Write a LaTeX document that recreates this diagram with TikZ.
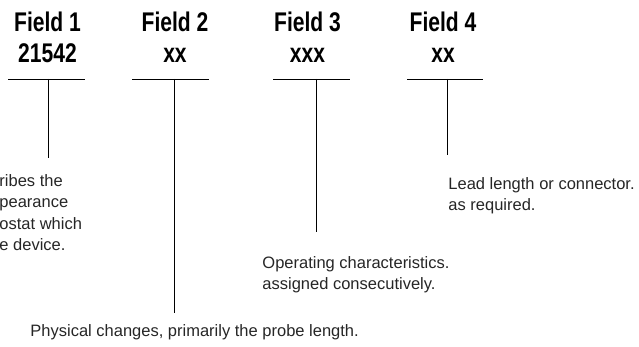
\documentclass[tikz,border=0pt]{standalone}
\usepackage{fontspec}
\setmainfont{Liberation Sans}
\newfontfamily\fieldfont[FakeStretch=0.78]{Liberation Sans Bold}
\usetikzlibrary{positioning}

\begin{document}
\begin{tikzpicture}[x=1pt, y=1pt, line width=0.9pt]
    \tikzset{field/.style={inner sep=0pt, anchor=base, align=center,
               font=\fieldfont\fontsize{27}{31}\selectfont},
             note/.style={inner sep=0pt, anchor=base west, align=left, text=black!85,
               font=\fontsize{16.5}{21.5}\selectfont}}
    \useasboundingbox (0,0) rectangle (639,347);
    % field headings (base = last line)
    \node[field] (field1) at (47.5,284) {Field 1\\21542};
    \node[field] (field2) at (175,284)  {Field 2\\xx};
    \node[field] (field3) at (307.5,284) {Field 3\\xxx};
    \node[field] (field4) at (443,284)  {Field 4\\xx};
    % rules under the headings
    \coordinate (rule1w) at (8,268);   \coordinate (rule1e) at (85,268);
    \coordinate (rule2w) at (132,268); \coordinate (rule2e) at (209,268);
    \coordinate (rule3w) at (273,268); \coordinate (rule3e) at (350,268);
    \coordinate (rule4w) at (407,268); \coordinate (rule4e) at (483,268);
    % stems
    \coordinate (stem1) at (48,268);  \coordinate (foot1) at (48,189);
    \coordinate (stem2) at (174,268); \coordinate (foot2) at (174,34);
    \coordinate (stem3) at (316,268); \coordinate (foot3) at (316,115);
    \coordinate (stem4) at (447,268); \coordinate (foot4) at (447,192);
    \draw (rule1w) -- (rule1e)  (stem1) -- (foot1);
    \draw (rule2w) -- (rule2e)  (stem2) -- (foot2);
    \draw (rule3w) -- (rule3e)  (stem3) -- (foot3);
    \draw (rule4w) -- (rule4e)  (stem4) -- (foot4);
    % notes (base = last line)
    \node[note] (desc1) at (-1,96)   {ribes the\\pearance\\ostat which\\e device.};
    \node[note] (desc2) at (30,10)   {Physical changes, primarily the probe length.};
    \node[note] (desc3) at (262,57)  {Operating characteristics.\\assigned consecutively.};
    \node[note] (desc4) at (448,136) {Lead length or connector.\\as required.};
\end{tikzpicture}
\end{document}
